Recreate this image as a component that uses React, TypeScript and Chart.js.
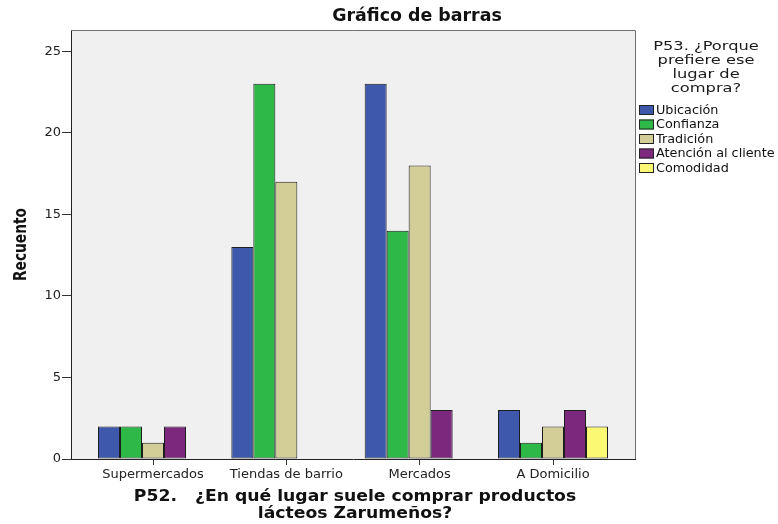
import { useEffect, useRef } from "react";
import { Chart, registerables } from "chart.js";

Chart.register(...registerables);

// ---------- data ----------
const categories = ["Supermercados", "Tiendas de barrio", "Mercados", "A Domicilio"];
const seriesNames = ["Ubicación", "Confianza", "Tradición", "Atención al cliente", "Comodidad"];
const ubicacion = [2, 13, 23, 3];
const confianza = [2, 23, 14, 1];
const tradicion = [1, 17, 18, 2];
const atencion = [2, 0, 3, 3];
const comodidad = [0, 0, 0, 2];
const seriesColors = ["#3E58AC", "#2EB848", "#D3CE97", "#7C287D", "#FBF873"];
const yTicks = [0, 5, 10, 15, 20, 25];
const chartTitle = "Gráfico de barras";
const legendTitle = ["P53. ¿Porque", "prefiere ese", "lugar de", "compra?"];
const xTitle = ["P52.   ¿En qué lugar suele comprar productos", "lácteos Zarumeños?"];
const yTitle = "Recuento";

const seriesValues = [ubicacion, confianza, tradicion, atencion, comodidad];

const FAMILY = '"DejaVu Sans", "Liberation Sans", sans-serif';

type TextOpts = {
  font: string;
  align?: CanvasTextAlign;
  baseline?: CanvasTextBaseline;
  sx?: number;
  sy?: number;
  rotate?: boolean;
  color?: string;
};

function drawText(ctx: CanvasRenderingContext2D, text: string, x: number, y: number, o: TextOpts) {
  ctx.save();
  ctx.translate(x, y);
  if (o.rotate) ctx.rotate(-Math.PI / 2);
  ctx.scale(o.sx ?? 1, o.sy ?? 1);
  ctx.font = o.font;
  ctx.textAlign = o.align ?? "left";
  ctx.textBaseline = o.baseline ?? "alphabetic";
  ctx.fillStyle = o.color ?? "#000";
  ctx.fillText(text, 0, 0);
  ctx.restore();
}

const decorPlugin = {
  id: "spssDecor",
  beforeDraw(chart: any) {
    const { ctx, chartArea: a } = chart;
    ctx.save();
    ctx.fillStyle = "#ffffff";
    ctx.fillRect(0, 0, chart.width, chart.height);
    ctx.fillStyle = "#f0f0f0";
    ctx.fillRect(a.left, a.top, a.right - a.left, a.bottom - a.top);
    ctx.restore();
  },
  afterDraw(chart: any) {
    const { ctx, chartArea: a } = chart;
    // frame top & right
    ctx.save();
    ctx.strokeStyle = "#6e6e6e";
    ctx.lineWidth = 1;
    ctx.beginPath();
    ctx.moveTo(a.left, a.top + 0.5);
    ctx.lineTo(a.right + 0.5, a.top + 0.5);
    ctx.lineTo(a.right + 0.5, a.bottom);
    ctx.stroke();
    ctx.restore();

    // chart title
    drawText(ctx, chartTitle, 417, 21, {
      font: `bold 17.4px ${FAMILY}`,
      align: "center",
      color: "#111",
    });

    // axis titles
    const cx = (a.left + a.right) / 2;
    xTitle.forEach((line, i) => {
      drawText(ctx, line, cx + 2, 497 + i * 17, {
        font: `bold 15px ${FAMILY}`,
        align: "center",
        baseline: "middle",
        sx: 1.148,
        color: "#111",
      });
    });
    drawText(ctx, yTitle, 21, (a.top + a.bottom) / 2, {
      font: `bold 13.75px ${FAMILY}`,
      align: "center",
      baseline: "middle",
      rotate: true,
      sy: 1.3,
      color: "#111",
    });

    // legend title
    legendTitle.forEach((line, i) => {
      drawText(ctx, line, 706, 50 + i * 14, {
        font: `13px ${FAMILY}`,
        align: "center",
        sx: 1.25,
        color: "#1a1a1a",
      });
    });

    // legend items
    chart.data.datasets.forEach((ds: any, i: number) => {
      const yMid = 110 + i * 14.5;
      ctx.save();
      ctx.fillStyle = ds.backgroundColor;
      ctx.fillRect(639, yMid - 5, 15, 10);
      ctx.strokeStyle = "#222";
      ctx.lineWidth = 1;
      ctx.strokeRect(639.5, yMid - 4.5, 14, 9);
      ctx.restore();
      drawText(ctx, ds.label, 656, yMid + 0.5, {
        font: `12.8px ${FAMILY}`,
        baseline: "middle",
        color: "#111",
      });
    });
  },
};

export default function App() {
  const ref = useRef<HTMLCanvasElement | null>(null);

  useEffect(() => {
    if (!ref.current) return;
    const chart = new Chart(ref.current, {
      type: "bar",
      data: {
        datasets: seriesNames.map((name, i) => ({
          label: name,
          data: seriesValues[i].map((v, j) => ({ x: j + 1, y: v === 0 ? null : v })),
          backgroundColor: seriesColors[i],
          borderColor: "#1e1e1e",
          borderWidth: 1,
          borderSkipped: false,
          categoryPercentage: 0.825,
          barPercentage: 1,
        })) as any,
      },
      options: {
        responsive: false,
        devicePixelRatio: 1,
        animation: false,
        layout: { padding: { top: 30, right: 143, left: 0, bottom: 0 } },
        plugins: {
          legend: { display: false },
          title: { display: false },
          tooltip: { enabled: false },
        },
        scales: {
          x: {
            type: "linear",
            min: 0.385,
            max: 4.615,
            offset: false,
            afterBuildTicks: (s: any) => {
              s.ticks = categories.map((_, i) => ({ value: i + 1 }));
            },
            afterFit: (s: any) => {
              s.height = 65;
            },
            grid: {
              offset: false,
              drawOnChartArea: false,
              drawTicks: true,
              tickLength: 6,
              color: "#333",
            },
            border: { display: true, color: "#222", width: 1 },
            ticks: {
              autoSkip: false,
              maxRotation: 0,
              padding: 2,
              color: "#222",
              font: { family: FAMILY, size: 13 },
              callback: (v: any) => categories[Math.round(Number(v)) - 1] ?? "",
            },
          },
          y: {
            type: "linear",
            min: 0,
            max: 26.3,
            afterBuildTicks: (s: any) => {
              s.ticks = yTicks.map((v) => ({ value: v }));
            },
            afterFit: (s: any) => {
              s.width = 71;
            },
            grid: {
              drawOnChartArea: false,
              drawTicks: true,
              tickLength: 9,
              color: "#333",
            },
            border: { display: true, color: "#222", width: 1 },
            ticks: {
              padding: 1,
              color: "#222",
              font: { family: FAMILY, size: 13 },
            },
          },
        },
      } as any,
      plugins: [decorPlugin],
    });
    return () => chart.destroy();
  }, []);

  return (
    <div style={{ position: "absolute", left: 0, top: 0, width: 778, height: 524 }}>
      <canvas ref={ref} width={778} height={524} style={{ display: "block" }} />
    </div>
  );
}
